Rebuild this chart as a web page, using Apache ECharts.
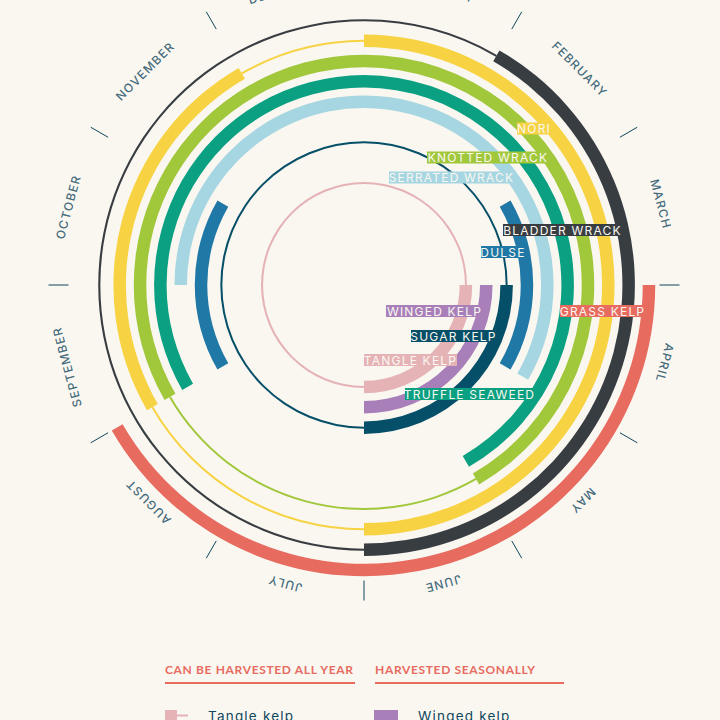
<!DOCTYPE html>
<html>
<head>
<meta charset="utf-8">
<style>
  html, body { margin: 0; padding: 0; background: #faf7f1; }
  #main { width: 720px; height: 720px; }
  /* zrender has no tracking option, the svg renderer lets css do it */
  #main text { letter-spacing: 1.2px; }
  #main text[style*="bold"] { letter-spacing: 0.65px; }
</style>
<script src="https://cdn.jsdelivr.net/npm/echarts@6/dist/echarts.min.js"></script>
</head>
<body>
<div id="main"></div>
<script>
var myChart = echarts.init(document.getElementById('main'), null, {renderer: 'svg'});

// rings from the inside out, last band only holds the month names
var rings = ['Tangle kelp', 'Winged kelp', 'Sugar kelp', 'Dulse', 'Serrated wrack',
    'Truffle seaweed', 'Knotted wrack', 'Nori', 'Bladder wrack', 'Grass kelp', 'months'];
var ringColors = ['#e5b3b6', '#a87fb9', '#064f68', '#1f78a6', '#a6d6e1',
    '#0aa081', '#a1c73b', '#f7d344', '#383d42', '#e76b5f'];
var months = ['JANUARY', 'FEBRUARY', 'MARCH', 'APRIL', 'MAY', 'JUNE', 'JULY',
    'AUGUST', 'SEPTEMBER', 'OCTOBER', 'NOVEMBER', 'DECEMBER'];
// small hand nudges in screen pixels so the names sit where the poster has them
var monthNudge = [[0, 0], [0, 0], [2, -2], [6, -1], [3, 0], [0, 4], [0, 4],
    [0, 1], [-2, 3], [-1, 1], [-3, 2], [0, 0]];

// [from, to] in months, 0 = start of January, 12 = end of December
var harvestSpans = [
    [[3, 6]],
    [[3, 6]],
    [[3, 6]],
    [[2, 4], [8, 10]],
    [[9, 12], [0, 4]],
    [[8, 12], [0, 5]],
    [[8, 12], [0, 5]],
    [[0, 6], [8, 11]],
    [[1, 6]],
    [[3, 8]]
];
var quietSpans = [
    [[6, 12], [0, 3]],
    [],
    [[6, 12], [0, 3]],
    [],
    [],
    [],
    [[5, 8]],
    [[6, 8], [11, 12]],
    [[6, 12], [0, 1]],
    []
];

// name chips sitting on the rings: text, left, right, centre y, ring
var chips = [
    ['NORI', 517, 551, 128.5, 7],
    ['KNOTTED WRACK', 427, 549, 157.5, 6],
    ['SERRATED WRACK', 389, 514, 177.5, 4],
    ['BLADDER WRACK', 503, 622, 230, 8],
    ['DULSE', 481, 525, 252, 3],
    ['WINGED KELP', 386, 483, 311, 1],
    ['GRASS KELP', 560, 645, 311, 9],
    ['SUGAR KELP', 411, 496, 336, 2],
    ['TANGLE KELP', 364, 457, 360, 0],
    ['TRUFFLE SEAWEED', 405, 534, 394, 5]
];

var spanData = function (spans) {
    var res = [];
    for (var i = 0; i < spans.length; i++) {
        for (var j = 0; j < spans[i].length; j++) {
            res.push([i, spans[i][j][0], spans[i][j][1]]);
        }
    }
    return res;
};

var arcSeries = function (spans, width) {
    return {
        type: 'custom',
        coordinateSystem: 'polar',
        silent: true,
        encode: {radius: 0, angle: [1, 2]},
        data: spanData(spans),
        renderItem: function (params, api) {
            var from = api.coord([api.value(0), api.value(1)]);
            var to = api.coord([api.value(0), api.value(2)]);
            return {
                type: 'sector',
                shape: {
                    cx: params.coordSys.cx,
                    cy: params.coordSys.cy,
                    r0: from[2] - width / 2,
                    r: from[2] + width / 2,
                    startAngle: -from[3],
                    endAngle: -to[3]
                },
                style: {fill: ringColors[api.value(0)]}
            };
        }
    };
};

var monthData = [];
for (var m = 0; m < months.length; m++) {
    var turn = (m + 0.5) * 30;
    var rad = turn * Math.PI / 180;
    var n = monthNudge[m];
    monthData.push({
        name: months[m],
        value: [10, m + 0.5],
        label: {
            rotate: -turn,
            // label offset is applied in the text's own rotated frame
            offset: [n[0] * Math.cos(rad) + n[1] * Math.sin(rad), -n[0] * Math.sin(rad) + n[1] * Math.cos(rad)]
        }
    });
}

var navy = '#0f465c';
var red = '#e76b5f';
var graphics = [];
chips.forEach(function (c) {
    graphics.push({
        type: 'rect', silent: true, z: 10,
        shape: {x: c[1], y: c[3] - 6, width: c[2] - c[1], height: 12},
        style: {fill: ringColors[c[4]]}
    });
    graphics.push({
        type: 'text', silent: true, z: 11, x: (c[1] + c[2]) / 2, y: c[3],
        style: {text: c[0], fill: '#faf7f1', font: '12px Inter', textAlign: 'center', textVerticalAlign: 'middle'}
    });
});

// legend, cut off by the bottom of the picture
graphics.push(
    {type: 'text', silent: true, x: 165, y: 669, style: {text: 'CAN BE HARVESTED ALL YEAR', fill: red, font: 'bold 12px Lato', textVerticalAlign: 'middle'}},
    {type: 'text', silent: true, x: 375, y: 669, style: {text: 'HARVESTED SEASONALLY', fill: red, font: 'bold 12px Lato', textVerticalAlign: 'middle'}},
    {type: 'rect', silent: true, shape: {x: 165, y: 682, width: 190, height: 2}, style: {fill: red}},
    {type: 'rect', silent: true, shape: {x: 375, y: 682, width: 189, height: 2}, style: {fill: red}},
    {type: 'rect', silent: true, shape: {x: 165, y: 710, width: 12, height: 12}, style: {fill: ringColors[0]}},
    {type: 'rect', silent: true, shape: {x: 177, y: 714.5, width: 11, height: 2}, style: {fill: ringColors[0]}},
    {type: 'rect', silent: true, shape: {x: 374, y: 710, width: 24, height: 12}, style: {fill: ringColors[1]}},
    {type: 'text', silent: true, x: 208, y: 716, style: {text: 'Tangle kelp', fill: navy, font: '13.5px Inter', textVerticalAlign: 'middle'}},
    {type: 'text', silent: true, x: 418, y: 716, style: {text: 'Winged kelp', fill: navy, font: '13.5px Inter', textVerticalAlign: 'middle'}}
);

option = {
    animation: false,
    backgroundColor: '#faf7f1',
    polar: {
        center: [364, 285],
        radius: [91.8, 315.5]
    },
    angleAxis: {
        type: 'value',
        min: 0,
        max: 12,
        interval: 1,
        startAngle: 90,
        clockwise: true,
        axisLine: {show: false},
        axisLabel: {show: false},
        splitLine: {show: false},
        axisTick: {
            show: true,
            inside: true,
            length: 20,
            lineStyle: {color: navy, width: 1}
        }
    },
    radiusAxis: {
        type: 'category',
        data: rings,
        axisLine: {show: false},
        axisLabel: {show: false},
        axisTick: {show: false},
        splitLine: {show: false}
    },
    series: [
        arcSeries(quietSpans, 2),
        arcSeries(harvestSpans, 12.5),
        {
            type: 'scatter',
            coordinateSystem: 'polar',
            silent: true,
            symbolSize: 0,
            data: monthData,
            label: {
                show: true,
                position: 'inside',
                formatter: '{b}',
                color: navy,
                fontFamily: 'Inter',
                fontWeight: 500,
                fontSize: 12
            }
        }
    ],
    graphic: graphics
};

myChart.setOption(option);
</script>
</body>
</html>
